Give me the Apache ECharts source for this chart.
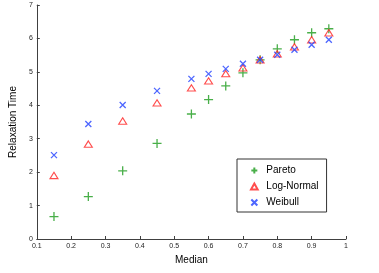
<!DOCTYPE html>
<html><head><meta charset="utf-8">
<script src="https://cdn.jsdelivr.net/npm/echarts@6/dist/echarts.min.js"></script>
<style>html,body{margin:0;padding:0;background:#fff}#c{width:379px;height:273px}</style>
</head><body><div id="c"></div>
<script>
var medians = [0.15, 0.25, 0.35, 0.45, 0.55, 0.6, 0.65, 0.7, 0.75, 0.8, 0.85, 0.9, 0.95];
var pareto = [0.67, 1.27, 2.04, 2.86, 3.74, 4.17, 4.58, 4.97, 5.36, 5.69, 5.96, 6.17, 6.29];
var logNormal = [1.90, 2.84, 3.53, 4.07, 4.52, 4.73, 4.95, 5.12, 5.36, 5.54, 5.75, 5.96, 6.17];
var weibull = [2.51, 3.44, 4.01, 4.43, 4.79, 4.94, 5.09, 5.24, 5.36, 5.51, 5.66, 5.81, 5.96];
var seriesNames = ['Pareto', 'Log-Normal', 'Weibull'];
var xTicks = {min: 0.1, max: 1, step: 0.1};
var yTicks = {min: 0, max: 7, step: 1};

function pairs(vals){ return medians.map(function(m,i){ return [m, vals[i]]; }); }
var font = 'Liberation Sans, Arial, sans-serif';
var plusPath = 'path://M0,5L10,5M5,0L5,10';
var crossPath = 'path://M0,0L10,10M10,0L0,10';
var triPath = 'path://M5,0L10,9L0,9Z';

var chart = echarts.init(document.getElementById('c'));
chart.setOption({
  animation: false,
  grid: {left: 28, right: 33, top: 5, bottom: 34},
  xAxis: {
    type: 'value', min: xTicks.min, max: xTicks.max, interval: xTicks.step,
    name: 'Median', nameLocation: 'middle', nameGap: 15,
    nameTextStyle: {fontFamily: font, fontSize: 10, color: '#000'},
    axisLine: {lineStyle: {color: '#404040', width: 1}},
    axisTick: {inside: true, length: 3, lineStyle: {color: '#404040'}},
    axisLabel: {fontFamily: font, fontSize: 7, color: '#222', margin: 4,
      formatter: function(v){ return String(Math.round(v*10)/10); }},
    splitLine: {show: false}
  },
  yAxis: {
    type: 'value', min: yTicks.min, max: yTicks.max, interval: yTicks.step,
    name: 'Relaxation Time', nameLocation: 'middle', nameGap: 12,
    nameTextStyle: {fontFamily: font, fontSize: 10, color: '#000'},
    axisLine: {show: true, lineStyle: {color: '#404040', width: 1}},
    axisTick: {show: true, inside: true, length: 3, lineStyle: {color: '#404040'}},
    axisLabel: {fontFamily: font, fontSize: 7, color: '#222', margin: 4},
    splitLine: {show: false}
  },
  legend: {
    orient: 'vertical', left: 237, top: 159,
    padding: [6, 8, 4, 13], itemGap: 5, itemWidth: 14, itemHeight: 6,
    borderColor: '#333', borderWidth: 1, backgroundColor: '#fff',
    textStyle: {fontFamily: font, fontSize: 10, lineHeight: 11, color: '#000'},
    data: seriesNames
  },
  series: [
    {name: seriesNames[0], type: 'scatter', data: pairs(pareto), symbol: plusPath, symbolSize: 9, symbolKeepAspect: true,
     itemStyle: {color: 'transparent', borderColor: '#1c9b1c', borderWidth: 1.3}},
    {name: seriesNames[1], type: 'scatter', data: pairs(logNormal), symbol: triPath, symbolSize: [8, 7], symbolKeepAspect: true,
     itemStyle: {color: 'transparent', borderColor: '#ff2020', borderWidth: 1.1}},
    {name: seriesNames[2], type: 'scatter', data: pairs(weibull), symbol: crossPath, symbolSize: 6, symbolKeepAspect: true,
     itemStyle: {color: 'transparent', borderColor: '#2040ff', borderWidth: 1.3}}
  ]
});
</script></body></html>
